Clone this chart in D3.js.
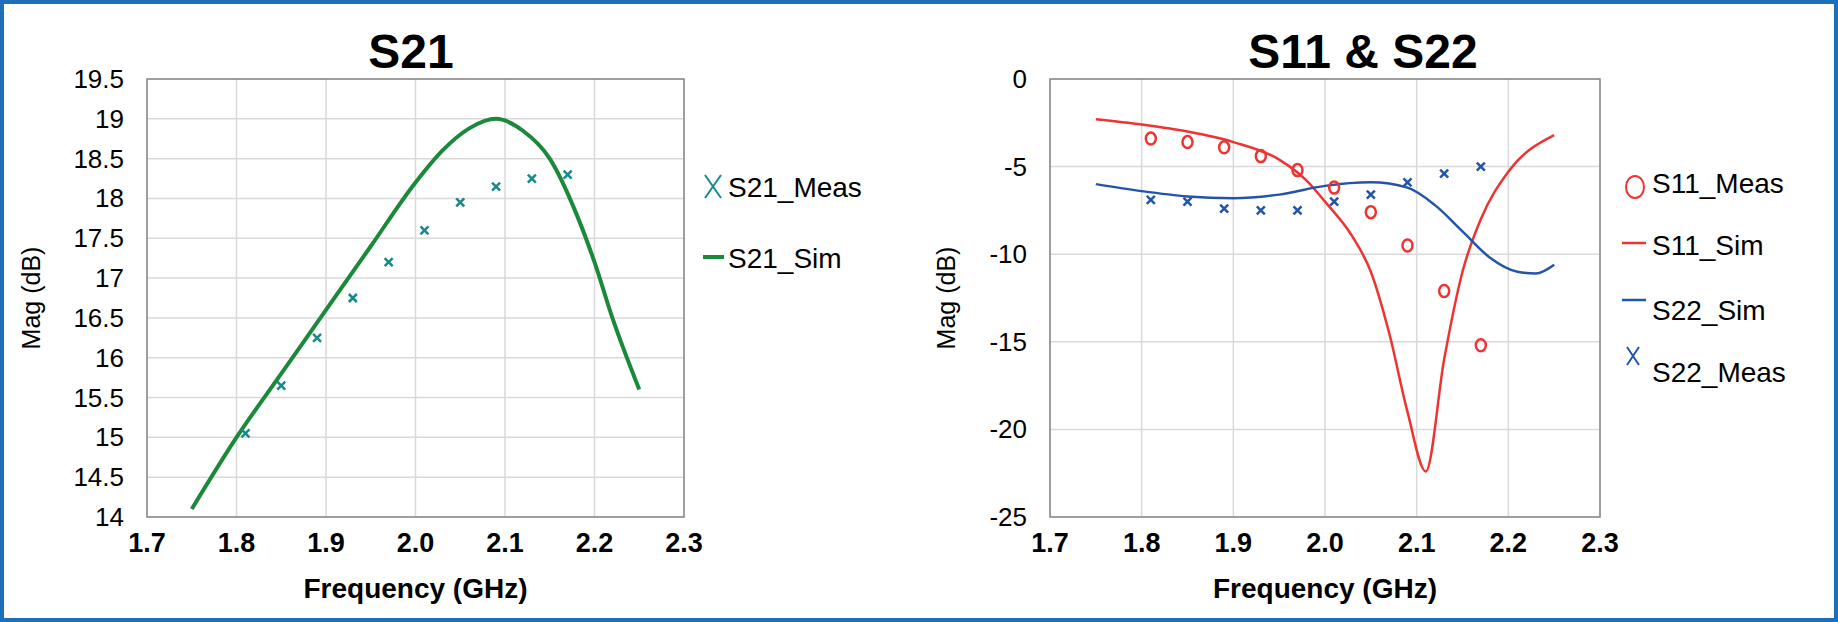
<!DOCTYPE html>
<html><head><meta charset="utf-8">
<script src="https://cdn.jsdelivr.net/npm/d3@7"></script>
<style>
body{margin:0;background:#fff;font-family:"Liberation Sans Narrow","Arial Narrow","Liberation Sans",Arial,sans-serif;}
svg{display:block}
</style></head><body>
<svg id="c" width="1838" height="622"></svg>
<script>
var freqTicks = [1.7,1.8,1.9,2.0,2.1,2.2,2.3];
var s21Ticks = [14,14.5,15,15.5,16,16.5,17,17.5,18,18.5,19,19.5];
var sxxTicks = [0,-5,-10,-15,-20,-25];

var s21SimF = [1.75,1.8,1.85,1.9,1.95,2.0,2.03,2.06,2.09,2.12,2.15,2.18,2.2,2.22,2.25];
var s21SimV = [14.1,15.0,15.8,16.6,17.4,18.2,18.6,18.88,19.0,18.85,18.5,17.8,17.2,16.5,15.6];
var measF = [1.81,1.85,1.89,1.93,1.97,2.01,2.05,2.09,2.13,2.17];
var s21MeasV = [15.05,15.65,16.25,16.75,17.2,17.6,17.95,18.15,18.25,18.3];

var s11SimF = [1.75,1.8,1.85,1.9,1.95,1.98,2.0,2.03,2.05,2.07,2.09,2.11,2.13,2.15,2.17,2.2,2.25];
var s11SimV = [-2.3,-2.6,-3.0,-3.6,-4.6,-5.8,-7.0,-9.0,-11.0,-14.5,-19,-22.4,-16,-11,-8,-5.3,-3.2];
var s11MeasV = [-3.4,-3.6,-3.9,-4.4,-5.2,-6.2,-7.6,-9.5,-12.1,-15.2];
var s22SimF = [1.75,1.8,1.85,1.9,1.95,2.0,2.05,2.09,2.12,2.15,2.18,2.21,2.23,2.25];
var s22SimV = [-6.0,-6.4,-6.7,-6.8,-6.6,-6.1,-5.9,-6.2,-7.2,-8.7,-10.2,-11.0,-11.1,-10.6];
var s22MeasV = [-6.9,-7.0,-7.4,-7.5,-7.5,-7.0,-6.6,-5.9,-5.4,-5.0];

var svg = d3.select("#c");
svg.append("rect").attr("x",2).attr("y",2).attr("width",1834).attr("height",618)
  .attr("fill","none").attr("stroke","#1d6fb8").attr("stroke-width",4);

function panel(o){
  var x = d3.scaleLinear().domain([1.7,2.3]).range([o.l,o.r]);
  var y = d3.scaleLinear().domain(o.dom).range([517,79]);
  var g = svg.append("g");
  g.selectAll(".vg").data(freqTicks).enter().append("line")
    .attr("x1",x).attr("x2",x).attr("y1",79).attr("y2",517).attr("stroke","#d9d9d9").attr("stroke-width",1.5);
  g.selectAll(".hg").data(o.ticks).enter().append("line")
    .attr("y1",y).attr("y2",y).attr("x1",o.l).attr("x2",o.r).attr("stroke","#d9d9d9").attr("stroke-width",1.5);
  g.append("rect").attr("x",o.l).attr("y",79).attr("width",o.r-o.l).attr("height",438)
    .attr("fill","none").attr("stroke","#888").attr("stroke-width",1.5);
  g.selectAll(".xl").data(freqTicks).enter().append("text")
    .attr("x",x).attr("y",552).attr("text-anchor","middle").attr("font-size",27).attr("font-weight","bold")
    .text(function(d){return d.toFixed(1);});
  g.selectAll(".yl").data(o.ticks).enter().append("text")
    .attr("x",o.l-23).attr("y",function(d){return y(d)+9;}).attr("text-anchor","end").attr("font-size",26)
    .text(function(d){return d;});
  g.append("text").attr("x",(o.l+o.r)/2).attr("y",598).attr("text-anchor","middle")
    .attr("font-size",28).attr("font-weight","bold").text("Frequency (GHz)");
  g.append("text").attr("transform","translate("+o.yt+",298) rotate(-90)").attr("text-anchor","middle")
    .attr("font-size",25).text("Mag (dB)");
  g.append("text").attr("x",o.tx).attr("y",68).attr("text-anchor","middle")
    .attr("font-size",48).attr("font-weight","bold").text(o.title);
  return {x:x,y:y,g:g};
}

function line(p,f,v,col,w){
  p.g.append("path").datum(d3.zip(f,v)).attr("fill","none").attr("stroke",col).attr("stroke-width",w)
    .attr("d",d3.line().x(function(d){return p.x(d[0]);}).y(function(d){return p.y(d[1]);}).curve(d3.curveMonotoneX));
}
function crosses(p,f,v,col,s){
  p.g.selectAll(null).data(d3.zip(f,v)).enter().append("path")
    .attr("transform",function(d){return "translate("+p.x(d[0])+","+p.y(d[1])+")";})
    .attr("d","M"+(-s)+","+(-s)+"L"+s+","+s+"M"+s+","+(-s)+"L"+(-s)+","+s)
    .attr("stroke",col).attr("stroke-width",2.5);
}
function circles(p,f,v,col){
  p.g.selectAll(null).data(d3.zip(f,v)).enter().append("ellipse")
    .attr("cx",function(d){return p.x(d[0]);}).attr("cy",function(d){return p.y(d[1]);})
    .attr("rx",5).attr("ry",6).attr("fill","none").attr("stroke",col).attr("stroke-width",2.5);
}

var p1 = panel({l:147,r:684,dom:[14,19.5],ticks:s21Ticks,yt:40,tx:411,title:"S21"});
line(p1,s21SimF,s21SimV,"#1a8a3a",4);
crosses(p1,measF,s21MeasV,"#168a8a",4);

var p2 = panel({l:1050,r:1600,dom:[-25,0],ticks:sxxTicks,yt:955,tx:1363,title:"S11 & S22"});
line(p2,s11SimF,s11SimV,"#ee3333",2.5);
line(p2,s22SimF,s22SimV,"#2255aa",2.5);
circles(p2,measF,s11MeasV,"#ee3333");
crosses(p2,measF,s22MeasV,"#2255aa",4);

// legends
var lg = svg.append("g").attr("font-size",28);
lg.append("path").attr("d","M705,175L721,198M721,175L705,198").attr("stroke","#168a8a").attr("stroke-width",2);
lg.append("text").attr("x",728).attr("y",197).text("S21_Meas");
lg.append("line").attr("x1",703).attr("x2",724).attr("y1",257).attr("y2",257).attr("stroke","#1a8a3a").attr("stroke-width",4);
lg.append("text").attr("x",728).attr("y",268).text("S21_Sim");

lg.append("ellipse").attr("cx",1635).attr("cy",187).attr("rx",9).attr("ry",11).attr("fill","none").attr("stroke","#ee3333").attr("stroke-width",2);
lg.append("text").attr("x",1652).attr("y",193).text("S11_Meas");
lg.append("line").attr("x1",1622).attr("x2",1646).attr("y1",243).attr("y2",243).attr("stroke","#ee3333").attr("stroke-width",2.5);
lg.append("text").attr("x",1652).attr("y",255).text("S11_Sim");
lg.append("line").attr("x1",1622).attr("x2",1646).attr("y1",300).attr("y2",300).attr("stroke","#2255aa").attr("stroke-width",2.5);
lg.append("text").attr("x",1652).attr("y",320).text("S22_Sim");
lg.append("path").attr("d","M1627,347L1639,365M1639,347L1627,365").attr("stroke","#2255aa").attr("stroke-width",2);
lg.append("text").attr("x",1652).attr("y",382).text("S22_Meas");
</script></body></html>
